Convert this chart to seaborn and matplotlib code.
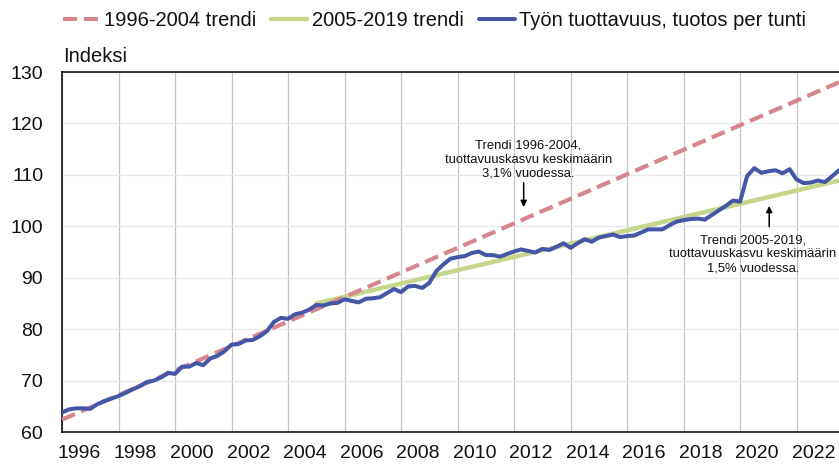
import numpy as np
import pandas as pd
import matplotlib
matplotlib.use("Agg")
import matplotlib.pyplot as plt
from matplotlib.transforms import ScaledTranslation
import seaborn as sns

# ---- data ----
start_quarter = "1996Q1"
productivity = [
    63.8, 64.4, 64.6, 64.6,   # 1996
    64.5, 65.4, 66.0, 66.5,   # 1997
    67.0, 67.6, 68.3, 68.9,   # 1998
    69.7, 70.0, 70.6, 71.5,   # 1999
    71.3, 72.7, 72.7, 73.4,   # 2000
    73.0, 74.3, 74.8, 75.7,   # 2001
    77.0, 77.1, 77.8, 77.9,   # 2002
    78.6, 79.6, 81.4, 82.2,   # 2003
    82.0, 82.9, 83.2, 83.8,   # 2004
    84.7, 84.6, 85.0, 85.1,   # 2005
    85.8, 85.5, 85.2, 85.9,   # 2006
    86.0, 86.2, 87.0, 87.8,   # 2007
    87.2, 88.3, 88.4, 88.0,   # 2008
    89.0, 91.3, 92.6, 93.7,   # 2009
    94.0, 94.2, 94.8, 95.1,   # 2010
    94.4, 94.4, 94.1, 94.6,   # 2011
    95.1, 95.5, 95.2, 94.9,   # 2012
    95.6, 95.4, 96.0, 96.7,   # 2013
    95.8, 96.7, 97.5, 97.0,   # 2014
    97.8, 98.1, 98.4, 97.9,   # 2015
    98.1, 98.2, 98.8, 99.4,   # 2016
    99.4, 99.4, 100.2, 100.9, # 2017
    101.2, 101.4, 101.5, 101.3,  # 2018
    102.2, 103.1, 104.0, 105.0,  # 2019
    104.8, 109.8, 111.3, 110.4,  # 2020
    110.7, 110.9, 110.3, 111.1,  # 2021
    109.1, 108.4, 108.5, 108.9,  # 2022
    108.6, 109.7, 110.9,         # 2023
]
trend_1996_x = [1996.0, 2023.5]
trend_1996_y = [62.4, 128.0]
trend_2005_x = [2005.0, 2023.5]
trend_2005_y = [85.0, 108.9]

year_ticks = list(range(1996, 2024, 2))
y_ticks = [60, 70, 80, 90, 100, 110, 120, 130]

label_red = "1996-2004 trendi"
label_green = "2005-2019 trendi"
label_blue = "Työn tuottavuus, tuotos per tunti"
y_title = "Indeksi"
note_1 = "Trendi 1996-2004,\ntuottavuuskasvu keskimäärin\n3,1% vuodessa."
note_2 = "Trendi 2005-2019,\ntuottavuuskasvu keskimäärin\n1,5% vuodessa."

# ---- build tables ----
quarters = pd.period_range(start_quarter, periods=len(productivity), freq="Q")
df_prod = pd.DataFrame({
    "t": quarters.year + (quarters.quarter - 1) / 4.0,
    "v": productivity,
})
df_t1 = pd.DataFrame({"t": trend_1996_x, "v": trend_1996_y})
df_t2 = pd.DataFrame({"t": trend_2005_x, "v": trend_2005_y})

# ---- style ----
sns.set_theme(style="white")
plt.rcParams["font.family"] = ["Liberation Sans", "DejaVu Sans"]

RED = "#D6868E"
GREEN = "#C5D68C"
BLUE = "#4656A6"
TXT = "#111111"

fig = plt.figure(figsize=(8.39, 4.65), dpi=100)
W, H = 839, 465
ax = fig.add_axes([62 / W, 1 - 432 / H, (839 - 62) / W, (432 - 72) / H])

sns.lineplot(data=df_t1, x="t", y="v", ax=ax, color=RED, lw=3.0,
             dashes=False, label=label_red, zorder=3)
ax.lines[-1].set_dashes([3.4, 1.6])
sns.lineplot(data=df_t2, x="t", y="v", ax=ax, color=GREEN, lw=3.2,
             label=label_green, zorder=2)
sns.lineplot(data=df_prod, x="t", y="v", ax=ax, color=BLUE, lw=2.9,
             label=label_blue, zorder=4)

ax.set_xlim(1996, 2023.5)
ax.set_ylim(60, 130)
ax.set_xticks(year_ticks)
ax.set_xticklabels([str(y) for y in year_ticks])
ax.set_yticks(y_ticks)
ax.set_xlabel("")
ax.set_ylabel("")

# grid
ax.xaxis.grid(True, color="#C4C4C4", lw=0.9)
ax.yaxis.grid(True, color="#E8E8E8", lw=0.9)
ax.set_axisbelow(True)

for s in ["left", "bottom", "top"]:
    ax.spines[s].set_color("black")
    ax.spines[s].set_linewidth(1.1)
ax.spines["right"].set_visible(False)

ax.tick_params(axis="both", length=0, labelsize=14, colors=TXT)
ax.tick_params(axis="y", pad=13.5)
ax.tick_params(axis="x", pad=9)
offset = ScaledTranslation(17 / 100, 0, fig.dpi_scale_trans)
for lab in ax.get_xticklabels():
    lab.set_transform(lab.get_transform() + offset)

# y title
fig.text(63 / W, 1 - 57 / H, y_title, fontsize=14.5, ha="left", va="center",
         color=TXT)

# annotations
ax.text(2012.5, 112.9, note_1, fontsize=9.4, ha="center", va="center",
        linespacing=1.22, color=TXT)
ax.annotate("", xy=(2012.34, 103.2), xytext=(2012.34, 109.0),
            arrowprops=dict(arrowstyle="-|>", color="black", lw=1.1,
                            mutation_scale=9))
ax.text(2020.46, 94.6, note_2, fontsize=9.4, ha="center", va="center",
        linespacing=1.22, color=TXT)
ax.annotate("", xy=(2021.03, 104.5), xytext=(2021.03, 99.4),
            arrowprops=dict(arrowstyle="-|>", color="black", lw=1.1,
                            mutation_scale=9))

# legend
ax.get_legend().remove()
handles, labels = ax.get_legend_handles_labels()
leg = fig.legend(handles, labels, loc="center left",
                 bbox_to_anchor=(63 / W, 1 - 21 / H), ncol=3, frameon=False,
                 fontsize=14.5, handlelength=1.8, handletextpad=0.22,
                 columnspacing=0.75, borderpad=0, borderaxespad=0)
for t in leg.get_texts():
    t.set_color(TXT)

fig.savefig("out.png", dpi=100)
